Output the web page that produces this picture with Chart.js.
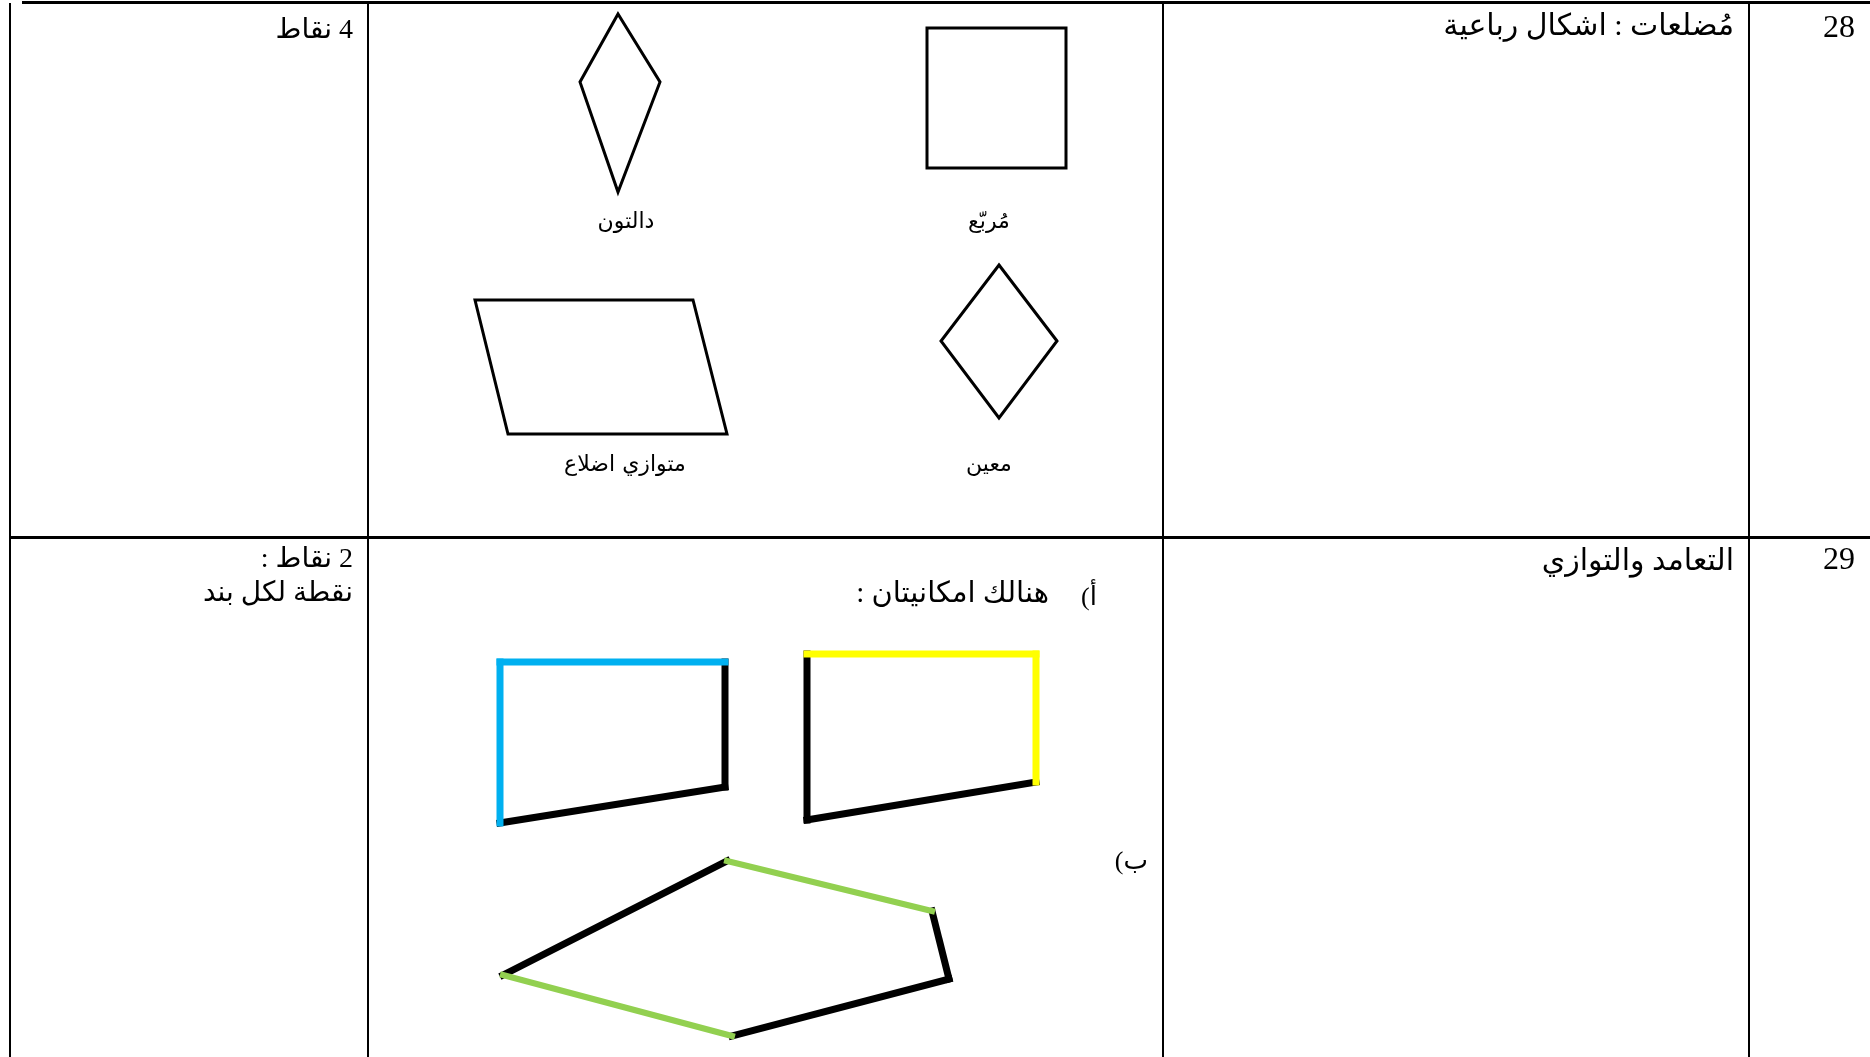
<!DOCTYPE html>
<html lang="ar">
<head>
<meta charset="utf-8">
<title>مضلعات - اشكال رباعية</title>
<script src="https://cdn.jsdelivr.net/npm/chart.js@4.4.1/dist/chart.umd.min.js"></script>
<style>
  html, body { margin: 0; padding: 0; background: #fff; }
  #page { position: relative; width: 1870px; height: 1057px; overflow: hidden;
          font-family: "Liberation Serif", "DejaVu Sans", serif; color: #000; }
  #shapes { position: absolute; left: 0; top: 0; }
  .ln { position: absolute; background: #000; }
  .t { position: absolute; white-space: nowrap; line-height: 1; direction: rtl; }
  .c { transform: translateX(50%); }
  .lbl { font-family: "DejaVu Sans", sans-serif; font-size: 22px; }
</style>
</head>
<body>
<div id="page">
  <!-- table grid -->
  <div class="ln" style="left:22px;top:1px;width:1848px;height:3px"></div>
  <div class="ln" style="left:9px;top:3px;width:2px;height:1054px"></div>
  <div class="ln" style="left:367px;top:3px;width:2px;height:1054px"></div>
  <div class="ln" style="left:1162px;top:3px;width:2px;height:1054px"></div>
  <div class="ln" style="left:1748px;top:3px;width:2px;height:1054px"></div>
  <div class="ln" style="left:9px;top:536px;width:1861px;height:3px"></div>

  <canvas id="shapes" width="1870" height="1057"></canvas>

  <!-- row 28 -->
  <div class="t" style="right:1517px;top:15px;font-size:28px">4 نقاط</div>
  <div class="t" style="right:136px;top:10px;font-size:30px">مُضلعات : اشكال رباعية</div>
  <div class="t" style="right:15px;top:10px;font-size:32px">28</div>
  <div class="t c lbl" style="right:1244px;top:210px">دالتون</div>
  <div class="t c lbl" style="right:881px;top:210px">مُربّع</div>
  <div class="t c lbl" style="right:1245px;top:453px">متوازي اضلاع</div>
  <div class="t c lbl" style="right:881px;top:453px">معين</div>

  <!-- row 29 -->
  <div class="t" style="right:1517px;top:544px;font-size:28px">2 نقاط :</div>
  <div class="t" style="right:1517px;top:578px;font-size:28px">نقطة لكل بند</div>
  <div class="t" style="right:136px;top:545px;font-size:30px">التعامد والتوازي</div>
  <div class="t" style="right:15px;top:542px;font-size:32px">29</div>
  <div class="t" style="right:773px;top:584px;font-size:26px">أ)</div>
  <div class="t" style="right:821px;top:578px;font-size:29px">هنالك امكانيتان :</div>
  <div class="t" style="right:722px;top:848px;font-size:26px">ب)</div>
</div>

<script>
// vertices of each shape, in page units (x to the right, y downwards)
const kiteX = [618, 660, 618, 580];
const kiteY = [14, 82, 192, 82];
const squareX = [927, 1066, 1066, 927];
const squareY = [28, 28, 168, 168];
const paraX = [475, 693, 727, 508];
const paraY = [300, 300, 434, 434];
const rhombusX = [999, 1057, 999, 941];
const rhombusY = [265, 341, 418, 341];

const quadBlueX = [500, 725, 725, 500];
const quadBlueY = [662, 662, 787, 823];
const quadYellowX = [807, 1036, 1036, 807];
const quadYellowY = [654, 654, 782, 820];
const pentaX = [727, 932, 949, 732, 503];
const pentaY = [861, 911, 979, 1036, 975];

// colour of each edge i -> i+1 ('k' = plain black)
const quadBlueEdges = ['b', 'k', 'k', 'b'];
const quadYellowEdges = ['y', 'y', 'k', 'k'];
const pentaEdges = ['g', 'k', 'k', 'g', 'k'];

const colours = { k: '#000000', b: '#00b0f0', y: '#ffff00', g: '#92d050' };

const pts = (xs, ys) => xs.map((x, i) => ({ x, y: ys[i] }));

const closed = (xs, ys) => {
  const p = pts(xs, ys);
  return {
    data: [...p, p[0], p[1]],
    showLine: true, borderColor: '#000', borderWidth: 3,
    borderJoinStyle: 'miter', pointRadius: 0, order: 2
  };
};

const edges = (xs, ys, cols, width, blackWidth) => {
  const p = pts(xs, ys);
  return cols.map((c, i) => ({
    data: [p[i], p[(i + 1) % p.length]],
    showLine: true, borderColor: colours[c],
    borderWidth: c === 'k' ? blackWidth : width,
    borderCapStyle: 'square', pointRadius: 0,
    order: c === 'k' ? 1 : 0
  }));
};

const datasets = [
  closed(kiteX, kiteY),
  closed(squareX, squareY),
  closed(paraX, paraY),
  closed(rhombusX, rhombusY),
  ...edges(quadBlueX, quadBlueY, quadBlueEdges, 7, 7),
  ...edges(quadYellowX, quadYellowY, quadYellowEdges, 7, 7),
  ...edges(pentaX, pentaY, pentaEdges, 6, 7)
];

new Chart(document.getElementById('shapes'), {
  type: 'scatter',
  data: { datasets },
  options: {
    responsive: false,
    animation: false,
    events: [],
    layout: { padding: 0 },
    plugins: { legend: { display: false }, tooltip: { enabled: false } },
    scales: {
      x: { type: 'linear', min: 0, max: 1870, display: false },
      y: { type: 'linear', min: 0, max: 1057, reverse: true, display: false }
    }
  }
});
</script>
</body>
</html>
